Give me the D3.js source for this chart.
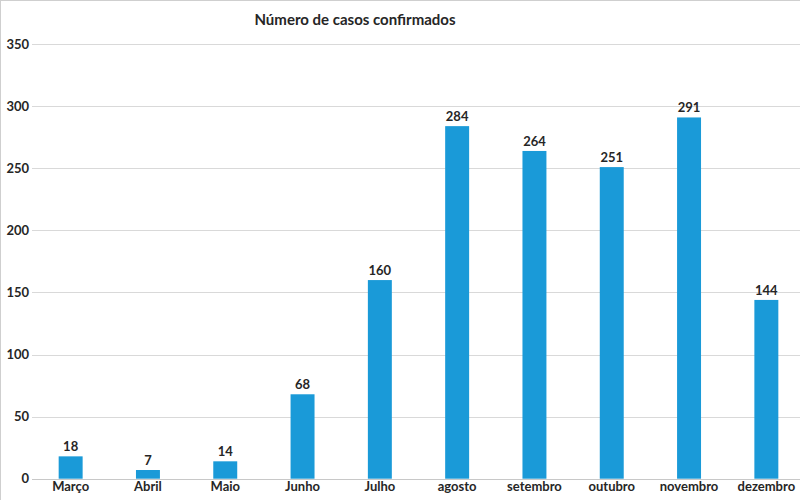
<!DOCTYPE html>
<html><head><meta charset="utf-8">
<script src="https://cdn.jsdelivr.net/npm/d3@7"></script>
<style>body{margin:0;background:#fff}svg{display:block}</style>
</head><body>
<svg id="c" width="800" height="500"></svg>
<script>
const title = "Número de casos confirmados";
const categories = ["Março","Abril","Maio","Junho","Julho","agosto","setembro","outubro","novembro","dezembro"];
const values = [18,7,14,68,160,284,264,251,291,144];
const yTicks = [0,50,100,150,200,250,300,350];

const svg = d3.select("#c");
const font = "Lato, 'Open Sans', sans-serif";
const x = d3.scaleBand().domain(categories).range([32,805]).paddingInner(0.69).paddingOuter(0.345);
const y = d3.scaleLinear().domain([0,350]).range([478.7,44.2]);

// frame
svg.append("line").attr("x1",0.5).attr("x2",0.5).attr("y1",0).attr("y2",500).attr("stroke","#cfcfcf");
svg.append("line").attr("x1",0).attr("x2",800).attr("y1",0.5).attr("y2",0.5).attr("stroke","#cfcfcf");

// grid
svg.append("g").selectAll("line").data(yTicks).join("line")
  .attr("x1",32).attr("x2",800)
  .attr("y1",d=>Math.round(y(d))+0.5).attr("y2",d=>Math.round(y(d))+0.5)
  .attr("stroke",d=>d===0?"#c8c8c8":"#d9d9d9").attr("stroke-width",1);

// y axis labels
const yAxis = d3.axisLeft(y).tickValues(yTicks).tickSize(0).tickPadding(3);
const ga = svg.append("g").attr("transform","translate(32,0)").call(yAxis);
ga.select(".domain").remove();
ga.selectAll("text").attr("font-family",font).attr("font-size",13).attr("font-weight","bold").attr("fill","#262626");

// bars
svg.append("g").selectAll("rect").data(values).join("rect")
  .attr("x",(d,i)=>x(categories[i])).attr("width",x.bandwidth())
  .attr("y",d=>y(d)).attr("height",d=>y(0)-y(d))
  .attr("fill","#1a9ad8");

// value labels
svg.append("g").selectAll("text").data(values).join("text")
  .attr("x",(d,i)=>x(categories[i])+x.bandwidth()/2).attr("y",d=>y(d)-5)
  .attr("text-anchor","middle").attr("font-family",font).attr("font-size",13).attr("font-weight","bold").attr("fill","#262626")
  .text(d=>d);

// x axis labels
const xAxis = d3.axisBottom(x).tickSize(0).tickPadding(3);
const gx = svg.append("g").attr("transform","translate(0,479)").call(xAxis);
gx.select(".domain").remove();
gx.selectAll("text").attr("font-family",font).attr("font-size",13).attr("font-weight","bold").attr("fill","#262626");

// title
svg.append("text").attr("x",355).attr("y",25).attr("text-anchor","middle")
  .attr("font-family",font).attr("font-size",15).attr("font-weight","bold").attr("fill","#262626").text(title);
</script>
</body></html>
